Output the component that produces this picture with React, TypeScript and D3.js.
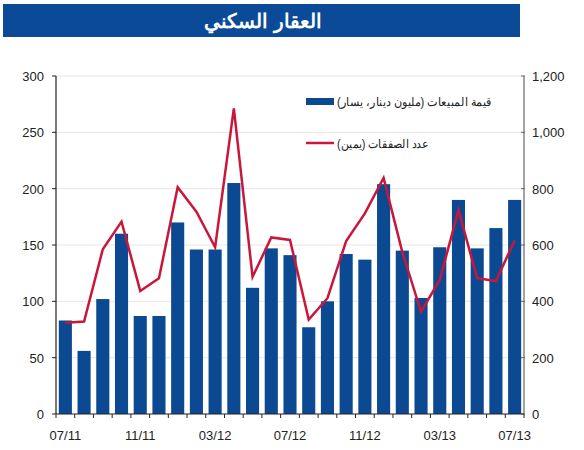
import React from "react";
import * as d3 from "d3";

const categories = [
  "07/11","08/11","09/11","10/11","11/11","12/11","01/12","02/12","03/12","04/12","05/12","06/12",
  "07/12","08/12","09/12","10/12","11/12","12/12","01/13","02/13","03/13","04/13","05/13","06/13","07/13",
];
const salesValue = [83,56,102,160,87,87,170,146,146,205,112,147,141,77,100,142,137,204,145,103,148,190,147,165,190];
const dealsCount = [324,328,585,683,437,482,805,718,592,1085,487,627,618,335,411,614,712,838,575,363,476,724,482,472,616];
const leftTicks = [0,50,100,150,200,250,300];
const rightTicks = [0,200,400,600,800,1000,1200];
const labelEvery = 4;

const title = "العقار السكني";
const legendBars = "قيمة المبيعات (مليون دينار، يسار)";
const legendLine = "عدد الصفقات (يمين)";

const W = 584, H = 450;
const left = 56, right = 524, top = 76, bottom = 414;
const barColor = "#0b4a93";
const lineColor = "#c8173a";
const font = "'Liberation Sans', Arial, sans-serif";

export default function App() {
  const x = d3.scaleBand<string>().domain(categories).range([left, right]).paddingInner(0.3).paddingOuter(0.15);
  const step = (right - left) / categories.length;
  const yL = d3.scaleLinear().domain([0, 300]).range([bottom, top]);
  const yR = d3.scaleLinear().domain([0, 1200]).range([bottom, top]);
  const line = d3.line<number>()
    .x((_, i) => (x(categories[i]) as number) + x.bandwidth() / 2)
    .y((d) => yR(d));
  const fmt = d3.format(",");

  return (
    <svg width={W} height={H} style={{ position: "absolute", left: 0, top: 0, background: "#fff" }} fontFamily={font}>
      <rect x={3} y={4} width={517} height={33} fill="#0a4a96" />
      <text x={263} y={28} textAnchor="middle" fill="#fff" fontSize={20} fontWeight="bold" direction="rtl">{title}</text>

      {leftTicks.slice(1).map((t) => (
        <line key={"g" + t} x1={left} x2={right} y1={yL(t)} y2={yL(t)} stroke="#e6e6e6" strokeWidth={1} />
      ))}

      {salesValue.map((v, i) => (
        <rect key={"b" + i} x={x(categories[i])} y={yL(v)} width={x.bandwidth()} height={bottom - yL(v)} fill={barColor} />
      ))}

      <path d={line(dealsCount) || ""} fill="none" stroke={lineColor} strokeWidth={2.5} strokeLinejoin="miter" />

      {/* left axis */}
      <line x1={left} x2={left} y1={top} y2={bottom} stroke="#222" strokeWidth={1.2} />
      {leftTicks.map((t) => (
        <g key={"l" + t}>
          <line x1={left - 4} x2={left} y1={yL(t)} y2={yL(t)} stroke="#222" />
          <text x={44} y={yL(t) + 5} textAnchor="end" fontSize={13} fill="#222">{t}</text>
        </g>
      ))}

      {/* right axis */}
      <line x1={right} x2={right} y1={top} y2={bottom} stroke="#666" strokeWidth={1.2} />
      {rightTicks.map((t) => (
        <g key={"r" + t}>
          <line x1={right - 3} x2={right + 1} y1={yR(t)} y2={yR(t)} stroke="#666" />
          <text x={532} y={yR(t) + 5} textAnchor="start" fontSize={13} fill="#222">{fmt(t)}</text>
        </g>
      ))}

      {/* bottom axis */}
      <line x1={left} x2={right} y1={bottom} y2={bottom} stroke="#222" strokeWidth={1.2} />
      {d3.range(categories.length + 1).map((i) => (
        <line key={"bt" + i} x1={left + i * step} x2={left + i * step} y1={bottom} y2={bottom + 4} stroke="#222" />
      ))}
      {categories.map((c, i) =>
        i % labelEvery === 0 ? (
          <text key={"xl" + i} x={(x(c) as number) + x.bandwidth() / 2} y={440} textAnchor="middle" fontSize={13} fill="#222">{c}</text>
        ) : null
      )}

      {/* legend */}
      <rect x={306} y={98} width={28} height={7} fill={barColor} />
      <text x={492} y={106} textAnchor="start" fontSize={12} fill="#222" direction="rtl" textLength={155} lengthAdjust="spacingAndGlyphs">{legendBars}</text>
      <line x1={306} x2={334} y1={143} y2={143} stroke={lineColor} strokeWidth={2.5} />
      <text x={428} y={148} textAnchor="start" fontSize={12} fill="#222" direction="rtl" textLength={91} lengthAdjust="spacingAndGlyphs">{legendLine}</text>
    </svg>
  );
}
